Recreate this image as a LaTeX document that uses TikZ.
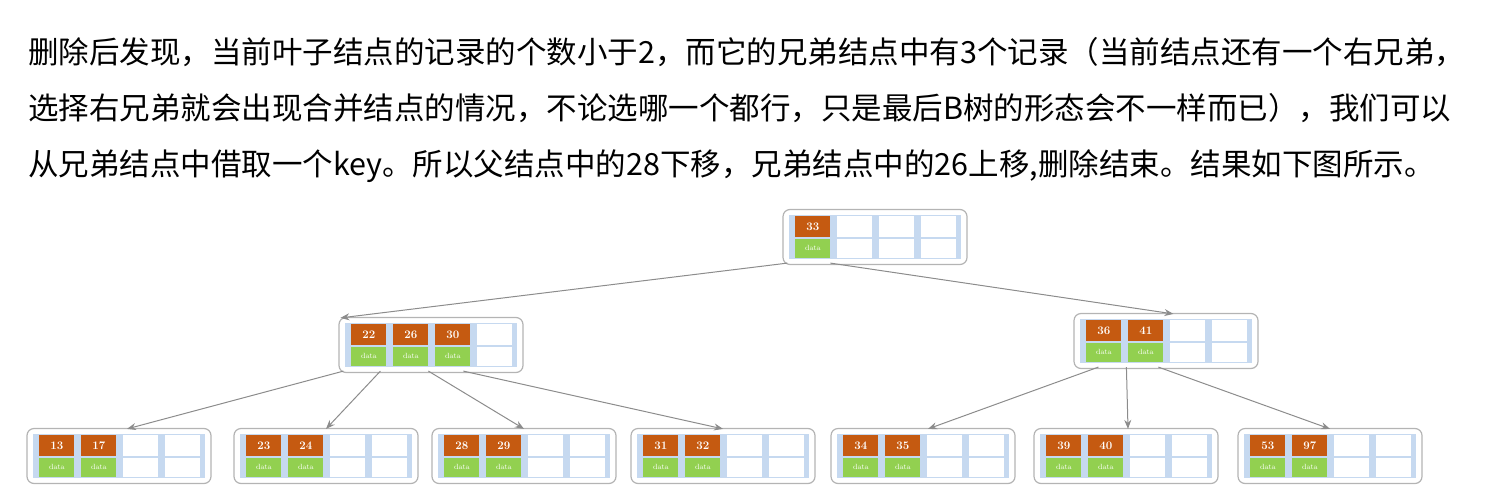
\documentclass[tikz,border=0pt]{standalone}
\usepackage{fontspec}
\newfontfamily\cjk{Noto Sans CJK SC}
\usetikzlibrary{calc,arrows.meta}
\definecolor{kor}{HTML}{C55A11}
\definecolor{dgr}{HTML}{92D050}
\definecolor{lblue}{HTML}{C6D9F0}
\definecolor{bord}{HTML}{B4B4B4}
\tikzset{
  bbox/.style={draw=bord,line width=1.2pt,fill=white,rounded corners=7pt,minimum width=184pt,minimum height=55pt,inner sep=0pt},
  keytxt/.style={text=white,font=\bfseries\fontsize{11.5}{11.5}\selectfont,inner sep=0pt},
  datatxt/.style={text=white,font=\fontsize{7.5}{7.5}\selectfont,inner sep=0pt},
  link/.style={draw=gray!90,line width=1pt,-{Stealth[length=9pt,width=7pt]}},
  txt/.style={font=\cjk\fontsize{30.5}{30.5}\selectfont,anchor=base west,inner sep=0pt}
}
% \bnode{name}{cx}{cy}{keys}
\newcommand{\bnode}[4]{%
  \node[bbox] (#1) at (#2,#3) {};
  \fill[lblue] ($(#1.north west)+(7,6)$) rectangle ($(#1.south east)+(-7,-6)$);
  \foreach \i in {0,1,2,3}{
    \fill[white] ($(#1.north west)+(13+\i*42,7)$) rectangle ++(35,21);
    \fill[white] ($(#1.north west)+(13+\i*42,30)$) rectangle ++(35,19);
  }
  \foreach \k [count=\j from 0] in {#4}{
    \fill[kor] ($(#1.north west)+(13+\j*42,7)$) rectangle ++(35,21);
    \fill[dgr] ($(#1.north west)+(13+\j*42,30)$) rectangle ++(35,19);
    \node[keytxt] at ($(#1.north west)+(30.5+\j*42,17.5)$) {\k};
    \node[datatxt] at ($(#1.north west)+(30.5+\j*42,39.5)$) {data};
  }
}
\begin{document}
\begin{tikzpicture}[x=1pt,y=-1pt]
\useasboundingbox (0,0) rectangle (1511,493);
\node[txt] (t1) at (28,63) {删除后发现，当前叶子结点的记录的个数小于2，而它的兄弟结点中有3个记录（当前结点还有一个右兄弟，};
\node[txt] (t2) at (28,119) {选择右兄弟就会出现合并结点的情况，不论选哪一个都行，只是最后B树的形态会不一样而已），我们可以};
\node[txt] (t3) at (28,175) {从兄弟结点中借取一个key。所以父结点中的28下移，兄弟结点中的26上移,删除结束。结果如下图所示。};

\bnode{root}{875}{237}{33}
\bnode{ml}{431}{345}{22,26,30}
\bnode{mr}{1166}{341}{36,41}
\bnode{a}{119}{456}{13,17}
\bnode{b}{326}{456}{23,24}
\bnode{c}{524}{456}{28,29}
\bnode{d}{723}{456}{31,32}
\bnode{e}{923}{456}{34,35}
\bnode{f}{1126}{456}{39,40}
\bnode{g}{1330}{456}{53,97}

\draw[link] ($(root.south west)+(5,-2)$) -- ($(ml.north west)+(2,1)$);
\draw[link] ($(root.south west)+(48,-2)$) -- ($(mr.north west)+(100,1)$);
\draw[link] ($(ml.south west)+(5,-2)$) -- ($(a.north)+(8,1)$);
\draw[link] ($(ml.south west)+(42,-2)$) -- ($(b.north)+(0,1)$);
\draw[link] ($(ml.south west)+(90,-2)$) -- ($(c.north)+(0,1)$);
\draw[link] ($(ml.south west)+(125,-2)$) -- ($(d.north)+(0,1)$);
\draw[link] ($(mr.south west)+(25,-2)$) -- ($(e.north)+(5,1)$);
\draw[link] ($(mr.south west)+(53,-2)$) -- ($(f.north)+(2,1)$);
\draw[link] ($(mr.south west)+(85,-2)$) -- ($(g.north)+(0,1)$);
\end{tikzpicture}
\end{document}
